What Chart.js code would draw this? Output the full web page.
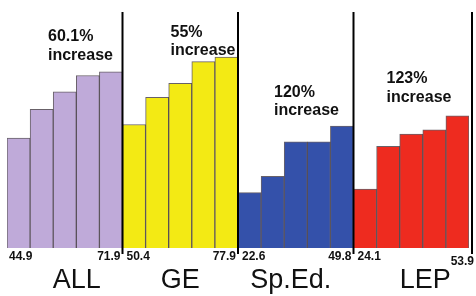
<!DOCTYPE html>
<html>
<head>
<meta charset="utf-8">
<script src="https://cdn.jsdelivr.net/npm/chart.js@4/dist/chart.umd.min.js"></script>
<style>
  html, body { margin: 0; padding: 0; background: #fff; }
  #wrap { width: 476px; height: 296px; }
</style>
</head>
<body>
<div id="wrap"><canvas id="myChart"></canvas></div>
<script>
// groups and their yearly values (first and last are printed under the bars)
const groups = ['ALL', 'GE', 'Sp.Ed.', 'LEP'];
const allValues = [44.9, 56.6, 63.7, 70.4, 71.9];
const geValues = [50.4, 61.5, 67.2, 76.1, 77.9];
const spedValues = [22.6, 29.3, 43.3, 43.3, 49.8];
const lepValues = [24.1, 41.5, 46.5, 48.2, 53.9];
const increases = ['60.1%', '55%', '120%', '123%'];

const groupValues = [allValues, geValues, spedValues, lepValues];
const groupColors = ['#bfaad9', '#f3ea14', '#3451aa', '#ee2b1f'];

const values = [].concat(...groupValues);
const labels = [];
const colors = [];
groupValues.forEach((vals, g) => {
    vals.forEach((v, i) => {
        labels.push(groups[g] + ' ' + (i + 1));
        colors.push(groupColors[g]);
    });
});

// where the "xx% increase" notes sit (offset from group start, baselines)
const notePos = [
    { dx: 41, y1: 41, y2: 60 },
    { dx: 48, y1: 37, y2: 55 },
    { dx: 36, y1: 97, y2: 115 },
    { dx: 33, y1: 83, y2: 102 },
];
// group names are not exactly centred in the original
const nameShift = [12, 0, -5, 14];

const groupDecor = {
    id: 'groupDecor',
    afterDatasetsDraw(chart) {
        const { ctx, scales: { x, y } } = chart;
        const half = (x.getPixelForValue(1) - x.getPixelForValue(0)) / 2;
        ctx.save();
        groupValues.forEach((vals, g) => {
            const first = g * 5;
            const last = first + vals.length - 1;
            const left = x.getPixelForValue(first) - half;
            const right = x.getPixelForValue(last) + half;
            const lineX = right + (g === 3 ? 3 : 0);

            // divider line
            ctx.strokeStyle = '#000';
            ctx.lineWidth = 2;
            ctx.beginPath();
            ctx.moveTo(lineX, 12);
            ctx.lineTo(lineX, y.getPixelForValue(0) + 6);
            ctx.stroke();

            // first and last values
            ctx.fillStyle = '#111';
            ctx.font = 'bold 12px "Liberation Sans", Arial, sans-serif';
            ctx.textBaseline = 'middle';
            ctx.textAlign = 'left';
            ctx.fillText(vals[0].toFixed(1), left + (g === 0 ? 2 : 4), 257);
            ctx.textAlign = 'right';
            ctx.fillText(vals[vals.length - 1].toFixed(1), g === 3 ? lineX + 2 : lineX - 2, g === 3 ? 262 : 257);

            // group name
            ctx.font = '27px "Liberation Sans", Arial, sans-serif';
            ctx.textAlign = 'center';
            ctx.fillText(groups[g], (left + right) / 2 + nameShift[g], 281);

            // increase note
            const p = notePos[g];
            ctx.font = 'bold 16px "Liberation Sans", Arial, sans-serif';
            ctx.textAlign = 'left';
            ctx.textBaseline = 'alphabetic';
            ctx.fillText(increases[g], left + p.dx, p.y1);
            ctx.fillText('increase', left + p.dx, p.y2);
        });
        ctx.restore();
    }
};

const ctx = document.getElementById('myChart').getContext('2d');
const myChart = new Chart(ctx, {
    type: 'bar',
    data: {
        labels,
        datasets: [{
            data: values,
            backgroundColor: colors,
            borderColor: 'rgba(40,30,40,0.7)',
            borderWidth: 1,
            barPercentage: 1,
            categoryPercentage: 1,
        }],
    },
    options: {
        responsive: true,
        maintainAspectRatio: false,
        animation: false,
        layout: { padding: { top: 3, bottom: 48, left: 7, right: 7 } },
        plugins: { legend: { display: false }, tooltip: { enabled: false } },
        scales: {
            x: { display: false },
            y: { display: false, min: 0, max: 100 },
        },
    },
    plugins: [groupDecor],
});
</script>
</body>
</html>
